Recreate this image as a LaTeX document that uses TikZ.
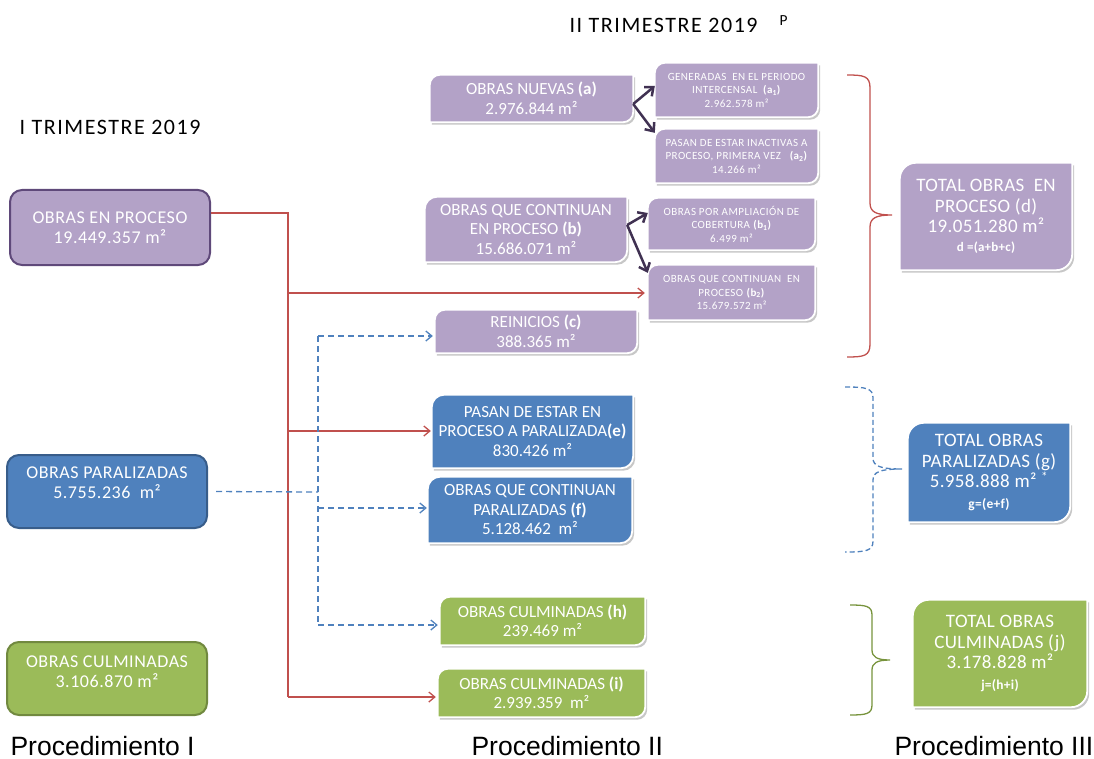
\documentclass[tikz,border=0pt]{standalone}
\usepackage{fontspec}
\setmainfont{Carlito}
\newfontfamily\arialf{Liberation Sans}
\usetikzlibrary{arrows.meta,backgrounds,calc}
\definecolor{purp}{HTML}{B3A2C7}
\definecolor{purpdk}{HTML}{5F497A}
\definecolor{blu}{HTML}{4F81BD}
\definecolor{bludk}{HTML}{385D8A}
\definecolor{grn}{HTML}{9BBB59}
\definecolor{grndk}{HTML}{71893F}
\definecolor{redl}{HTML}{C0504D}
\definecolor{darkarr}{HTML}{403152}
\definecolor{grnbr}{HTML}{77933C}
\newcommand\diagshape[2]{([yshift=-#2pt]#1.north west) arc[start angle=180,end angle=90,radius=#2pt] -- (#1.north east) -- ([yshift=#2pt]#1.south east) arc[start angle=0,end angle=-90,radius=#2pt] -- (#1.south west) -- cycle}
\tikzset{
 lbox/.style={rounded corners=12pt, line width=2pt, minimum width=200pt, text=white, align=center, inner sep=0pt, font=\fontsize{18}{20}\selectfont\addfontfeature{LetterSpace=3}},
 lbl/.style={text=white, align=center, font=\fontsize{18}{20}\selectfont\addfontfeature{LetterSpace=3}},
 dbox/.style={text=white, align=center, inner sep=0pt, font=\fontsize{17}{19.5}\selectfont},
 sbox/.style={dbox, font=\fontsize{11}{13.5}\selectfont\addfontfeature{LetterSpace=4}},
 tbox/.style={dbox, font=\fontsize{19}{20.5}\selectfont\addfontfeature{LetterSpace=2}},
 redln/.style={draw=redl, line width=1.3pt},
 redarr/.style={redln, -{Straight Barb[length=6pt,width=10pt]}},
 bluln/.style={draw=blu, line width=1.3pt, dash pattern=on 6pt off 4pt},
 bluarr/.style={bluln, -{Straight Barb[length=6pt,width=10pt]}},
 darr/.style={draw=darkarr, line width=2.5pt, -{Straight Barb[length=7pt,width=12pt]}},
 titl/.style={font=\fontsize{22}{24}\selectfont\addfontfeature{LetterSpace=7}, text=black},
 proc/.style={font=\arialf\fontsize{26.5}{30}\selectfont, anchor=base west},
}
\begin{document}
\begin{tikzpicture}[x=1pt,y=-1pt]
\useasboundingbox (0,0) rectangle (1094,759);

% titles
\node[titl, anchor=west] (t2) at (566,24) {II TRIMESTRE 2019\hspace{22pt}\textsuperscript{P}};
\node[titl, anchor=west] (t1) at (16,127) {I TRIMESTRE 2019};

% left boxes
\node[lbox, fill=purp, draw=purpdk, minimum height=75pt] (pro) at (110,227.5) {OBRAS EN PROCESO\\19.449.357 m²};
\node[lbox, fill=blu, draw=bludk, minimum height=73pt,
  label={[lbl,yshift=9pt]center:OBRAS PARALIZADAS\\5.755.236~ m²}] (par) at (107,491.5) {};
\node[lbox, fill=grn, draw=grndk, minimum height=73pt,
  label={[lbl,yshift=7pt]center:OBRAS CULMINADAS\\3.106.870 m²}] (cul) at (107,678.5) {};

% middle boxes
\node[dbox, minimum width=203pt, minimum height=47pt] (a) at (531.5,98.5) {OBRAS NUEVAS \textbf{(a)}\\2.976.844 m²};
\node[sbox, minimum width=163pt, minimum height=54pt] (a1) at (736.5,90) {GENERADAS~ EN EL PERIODO\\INTERCENSAL~ \textbf{(a\textsubscript{1})}\\2.962.578 m²};
\node[sbox, minimum width=163pt, minimum height=54pt] (a2) at (736.5,156) {PASAN DE ESTAR INACTIVAS A\\PROCESO, PRIMERA VEZ~~ \textbf{(a\textsubscript{2})}\\14.266 m²};
\node[dbox, minimum width=202pt, minimum height=65pt] (b) at (526,229.5) {OBRAS QUE CONTINUAN\\EN PROCESO \textbf{(b)}\\15.686.071 m²};
\node[sbox, minimum width=167pt, minimum height=52pt] (b1) at (731.5,224) {OBRAS POR AMPLIACIÓN DE\\COBERTURA \textbf{(b\textsubscript{1})}\\6.499 m²};
\node[sbox, minimum width=167pt, minimum height=55pt] (b2) at (731.5,292.5) {OBRAS QUE CONTINUAN~ EN\\PROCESO \textbf{(b\textsubscript{2})}\\15.679.572 m²};
\node[dbox, minimum width=202pt, minimum height=43pt] (c) at (536,331.5) {REINICIOS \textbf{(c)}\\388.365 m²};
\node[dbox, minimum width=201pt, minimum height=73pt] (e) at (532.5,431.5) {PASAN DE ESTAR EN\\PROCESO A PARALIZADA\textbf{(e)}\\830.426 m²};
\node[dbox, minimum width=204pt, minimum height=66pt] (f) at (530,510) {OBRAS QUE CONTINUAN\\PARALIZADAS \textbf{(f)}\\5.128.462~ m²};
\node[dbox, minimum width=205pt, minimum height=48pt] (h) at (542.5,621) {OBRAS CULMINADAS \textbf{(h)}\\239.469 m²};
\node[dbox, minimum width=207pt, minimum height=48pt] (i) at (541.5,693) {OBRAS CULMINADAS \textbf{(i)}\\2.939.359~ m²};

% right boxes
\node[tbox, minimum width=172pt, minimum height=107pt] (d) at (986,216.5) {TOTAL OBRAS~ EN\\PROCESO (d)\\19.051.280 m²\\[-2pt]{\fontsize{13}{15}\selectfont\bfseries d =(a+b+c)}};
\node[tbox, minimum width=162pt, minimum height=99pt] (g) at (989,472.5) {TOTAL OBRAS\\PARALIZADAS (g)\\5.958.888 m² \textsuperscript{*}\\{\fontsize{13.5}{15}\selectfont\bfseries g=(e+f)}};
\node[tbox, minimum width=174pt, minimum height=107pt] (j) at (1000,653.5) {TOTAL OBRAS\\CULMINADAS (j)\\3.178.828 m²\\{\fontsize{13.5}{14}\selectfont\bfseries j=(h+i)}};

% shapes behind
\begin{scope}[on background layer]
\foreach \n/\c/\r in {a/purp/10,a1/purp/10,a2/purp/10,b/purp/12,b1/purp/10,b2/purp/10,c/purp/10,e/blu/12,f/blu/12,h/grn/10,i/grn/10,d/purp/16,g/blu/16,j/grn/16}{
  \fill[black!22, transform canvas={shift={(2pt,-2.5pt)}}] \diagshape{\n}{\r};
  \filldraw[fill=\c, draw=white, line width=1.8pt] \diagshape{\n}{\r};
}
\end{scope}

% red connectors
\coordinate (rtop) at (288,213);
\coordinate (rb) at (288,293);
\coordinate (re) at (288,431);
\coordinate (rbot) at (288,697);
\draw[redln] ([yshift=14.5pt]pro.east) -- (rtop) -- (rbot);
\draw[redarr, shorten >=3pt] (rb) -- (rb -| b2.west);
\draw[redarr, shorten >=1pt] (re) -- (re -| e.west);
\draw[redarr, shorten >=2pt] (rbot) -- (rbot -| i.west);

% blue dashed connectors
\coordinate (bp) at (318,492);
\coordinate (bc) at (318,336);
\coordinate (bf) at (318,508);
\coordinate (bh) at (318,625);
\draw[bluln, shorten <=8pt] (par.east) -- (bp);
\draw[bluln] (bc) -- (bh);
\draw[bluarr, shorten >=2pt] (bc) -- (bc -| c.west);
\draw[bluarr, shorten >=1pt] (bf) -- (bf -| f.west);
\draw[bluarr, shorten >=2pt] (bh) -- (bh -| h.west);

% dark arrows
\draw[darr] ([yshift=-5.5pt]a.east) -- ([yshift=4pt]a1.west);
\draw[darr] ([yshift=-5.5pt]a.east) -- ([yshift=-4pt]a2.north west);
\draw[darr] ([yshift=4.5pt]b.east) -- ([yshift=11pt]b1.west);
\draw[darr] ([yshift=4.5pt]b.east) -- ([yshift=-8pt]b2.north west);

% braces
\draw[redl, line width=1.3pt] (847,75) .. controls (864,75) and (870,76) .. (870,88) -- (870,203) .. controls (870,212) and (876,215) .. (892,215) .. controls (876,215) and (870,218) .. (870,227) -- (870,344) .. controls (870,356) and (864,357) .. (847,357);
\draw[blu, line width=1.3pt, dash pattern=on 5pt off 3pt] (845,387) .. controls (866,387) and (873,388) .. (873,398) -- (873,458) .. controls (873,466) and (880,469) .. (902,469) .. controls (880,469) and (873,472) .. (873,480) -- (873,541) .. controls (873,551) and (866,552) .. (845,552);
\draw[grnbr, line width=1.3pt] (850,605) .. controls (866,605) and (872,606) .. (872,615) -- (872,650) .. controls (872,657) and (877,660) .. (890,660) .. controls (877,660) and (872,663) .. (872,670) -- (872,705) .. controls (872,714) and (866,715) .. (850,715);

% bottom labels
\node[proc] (p1) at (7,755) {Procedimiento I};
\node[proc] (p2) at (468,755) {Procedimiento II};
\node[proc] (p3) at (891,755) {Procedimiento III};
\end{tikzpicture}
\end{document}
